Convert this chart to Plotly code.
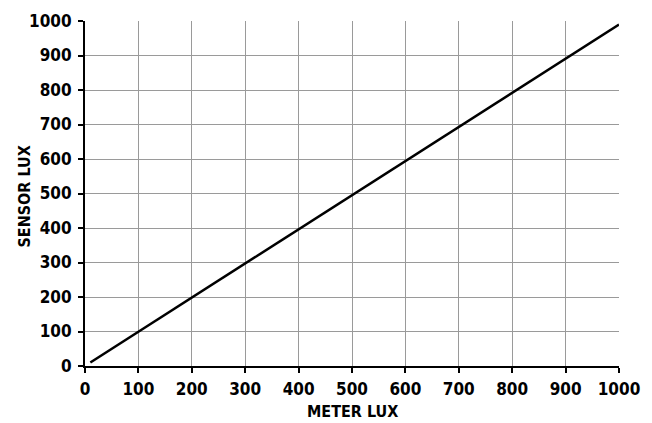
import plotly.graph_objects as go

meter_lux = [10, 1000]
sensor_lux = [10, 990]
tick_vals = [0, 100, 200, 300, 400, 500, 600, 700, 800, 900, 1000]

FONT = "DejaVu Sans Condensed, Liberation Sans Narrow, Roboto, sans-serif"

fig = go.Figure()
fig.add_trace(go.Scatter(x=meter_lux, y=sensor_lux, mode="lines",
                         line=dict(color="black", width=2.5), showlegend=False))

axis_common = dict(
    range=[0, 1000], tickvals=tick_vals, showgrid=True, gridcolor="#9a9a9a", gridwidth=1,
    zeroline=False, showline=True, linecolor="black", linewidth=2,
    ticks="outside", ticklen=5, tickcolor="black", tickwidth=1.5, automargin=False,
    tickfont=dict(family=FONT, size=17, color="black", weight="bold"),
)

fig.update_xaxes(**axis_common, ticklabelstandoff=2)
fig.update_yaxes(**axis_common, ticklabelstandoff=3)

title_font = dict(family=FONT, size=16, color="black", weight="bold")
fig.add_annotation(text="METER LUX", xref="paper", yref="paper", x=0.5, y=0,
                   xanchor="center", yanchor="middle", yshift=-45,
                   showarrow=False, font=title_font)
fig.add_annotation(text="SENSOR LUX", xref="paper", yref="paper", x=0, y=0.5,
                   xanchor="center", yanchor="middle", xshift=-61, yshift=-3,
                   textangle=-90, showarrow=False, font=title_font)

fig.update_layout(
    width=652, height=423,
    margin=dict(l=77, r=41, t=13, b=65),
    plot_bgcolor="white", paper_bgcolor="white",
)

fig.write_html("out.html")
